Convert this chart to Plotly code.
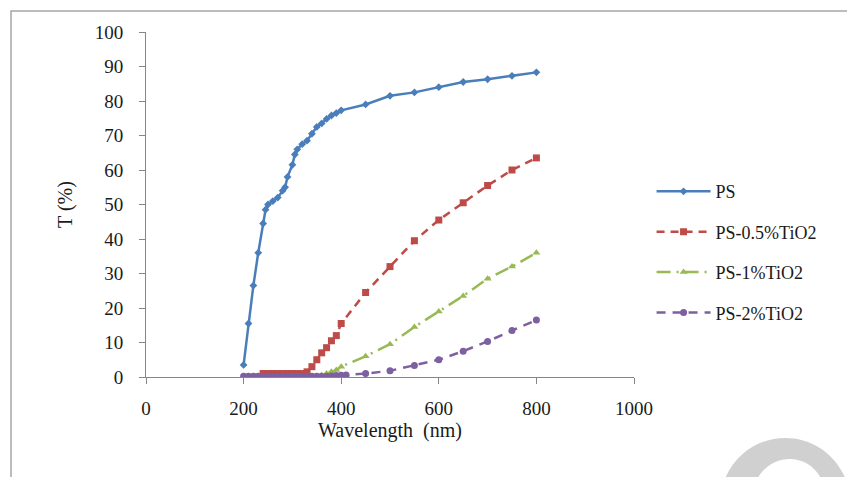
import plotly.graph_objects as go

# ---- data ----
ps_x = [200, 210, 220, 230, 240, 245, 250, 260, 270, 280, 285, 290, 300, 305, 310,
        320, 330, 340, 350, 360, 370, 380, 390, 400, 450, 500, 550, 600, 650, 700, 750, 800]
ps_y = [3.5, 15.5, 26.5, 36, 44.5, 48.5, 50, 51, 52, 54, 55, 58, 61.5, 64.5, 66,
        67.5, 68.5, 70.5, 72.5, 73.5, 74.8, 75.8, 76.5, 77.3, 79, 81.5, 82.5, 84, 85.5, 86.3, 87.3, 88.3]

r_x = [240, 250, 260, 270, 280, 290, 300, 310, 320, 330, 340, 350, 360, 370, 380, 390, 400,
       450, 500, 550, 600, 650, 700, 750, 800]
r_y = [1, 1, 1, 1, 1, 1, 1, 1, 1, 1.5, 3, 5, 7, 8.5, 10.5, 12, 15.5,
       24.5, 32, 39.5, 45.5, 50.5, 55.5, 60, 63.5]

g_x = [200, 210, 220, 230, 240, 250, 260, 270, 280, 290, 300, 310, 320, 330, 340, 350,
       360, 370, 380, 390, 400, 450, 500, 550, 600, 650, 700, 750, 800]
g_y = [0, 0, 0, 0, 0, 0, 0, 0, 0, 0, 0, 0, 0, 0, 0.1, 0.2,
       0.5, 1, 1.5, 2, 3, 6, 9.5, 14.5, 19, 23.5, 28.5, 32, 36]

p_x = [200, 210, 220, 230, 240, 250, 260, 270, 280, 290, 300, 310, 320, 330, 340, 350,
       360, 370, 380, 390, 400, 410, 450, 500, 550, 600, 650, 700, 750, 800]
p_y = [0.2, 0.2, 0.2, 0.2, 0.2, 0.2, 0.2, 0.2, 0.2, 0.2, 0.2, 0.2, 0.2, 0.2, 0.2, 0.2,
       0.2, 0.2, 0.3, 0.4, 0.5, 0.6, 1, 1.8, 3.3, 5, 7.5, 10.3, 13.5, 16.5]

names = ["PS", "PS-0.5%TiO2", "PS-1%TiO2", "PS-2%TiO2"]
x_ticks = [0, 200, 400, 600, 800, 1000]
y_ticks = [0, 10, 20, 30, 40, 50, 60, 70, 80, 90, 100]

FONT = "Liberation Serif"
AX = "#868686"
TXT = "#1a1a1a"

fig = go.Figure()
fig.add_trace(go.Scatter(x=ps_x, y=ps_y, name=names[0], mode="lines+markers", legendgroup="a",
                         line=dict(color="#4A7EBB", width=2.5),
                         marker=dict(symbol="diamond", size=6, color="#4A7EBB")))
fig.add_trace(go.Scatter(x=r_x, y=r_y, name=names[1], mode="lines+markers", legendgroup="b",
                         line=dict(color="#BE4B48", width=2.5, dash="8px,6px"),
                         marker=dict(symbol="square", size=7, color="#BE4B48")))
fig.add_trace(go.Scatter(x=g_x, y=g_y, name=names[2], mode="lines+markers", legendgroup="c",
                         line=dict(color="#98B954", width=2.5, dash="14px,6px,2px,6px"),
                         marker=dict(symbol="triangle-up", size=7, color="#98B954")))
fig.add_trace(go.Scatter(x=p_x, y=p_y, name=names[3], mode="lines+markers", legendgroup="d",
                         line=dict(color="#7D60A0", width=2.5, dash="9px,7px"),
                         marker=dict(symbol="circle", size=7, color="#7D60A0")))

axis_common = dict(showline=True, linecolor=AX, linewidth=1, ticks="outside", ticklen=6,
                   tickcolor=AX, showgrid=False, zeroline=False,
                   tickfont=dict(family=FONT, size=19, color=TXT))

fig.update_xaxes(range=[0, 1000], tickvals=x_ticks, ticklabelstandoff=8, **axis_common,
                 title=dict(text="Wavelength  (nm)", font=dict(family=FONT, size=20, color=TXT),
                            standoff=4))
fig.update_yaxes(range=[0, 100], tickvals=y_ticks, ticklabelstandoff=12, **axis_common,
                 title=dict(text="T (%)", font=dict(family=FONT, size=20, color=TXT),
                            standoff=16))

# outer frame
fig.add_shape(type="rect", xref="paper", yref="paper", x0=-0.2766, x1=1.4406, y0=-0.35, y1=1.0609,
              line=dict(color="#A6A6A6", width=1.5))
# watermark swoosh (decorative)
fig.add_shape(type="path", xref="paper", yref="paper",
              path="M 1.18,-0.32 C 1.22,-0.129 1.40,-0.129 1.44,-0.32 L 1.39,-0.32 "
                   "C 1.37,-0.21 1.27,-0.21 1.245,-0.32 Z",
              fillcolor="#D0D0D0", line=dict(width=0), layer="below")

fig.update_layout(
    width=847, height=469,
    margin=dict(l=138, r=221, t=24, b=100, autoexpand=False),
    paper_bgcolor="white", plot_bgcolor="white",
    font=dict(family=FONT, color=TXT),
    legend=dict(x=1.036, y=0.591, xanchor="left", yanchor="top", tracegroupgap=14,
                itemwidth=54,
                font=dict(family=FONT, size=18, color=TXT), bgcolor="rgba(0,0,0,0)"),
    showlegend=True,
)

fig.write_html("out.html")
